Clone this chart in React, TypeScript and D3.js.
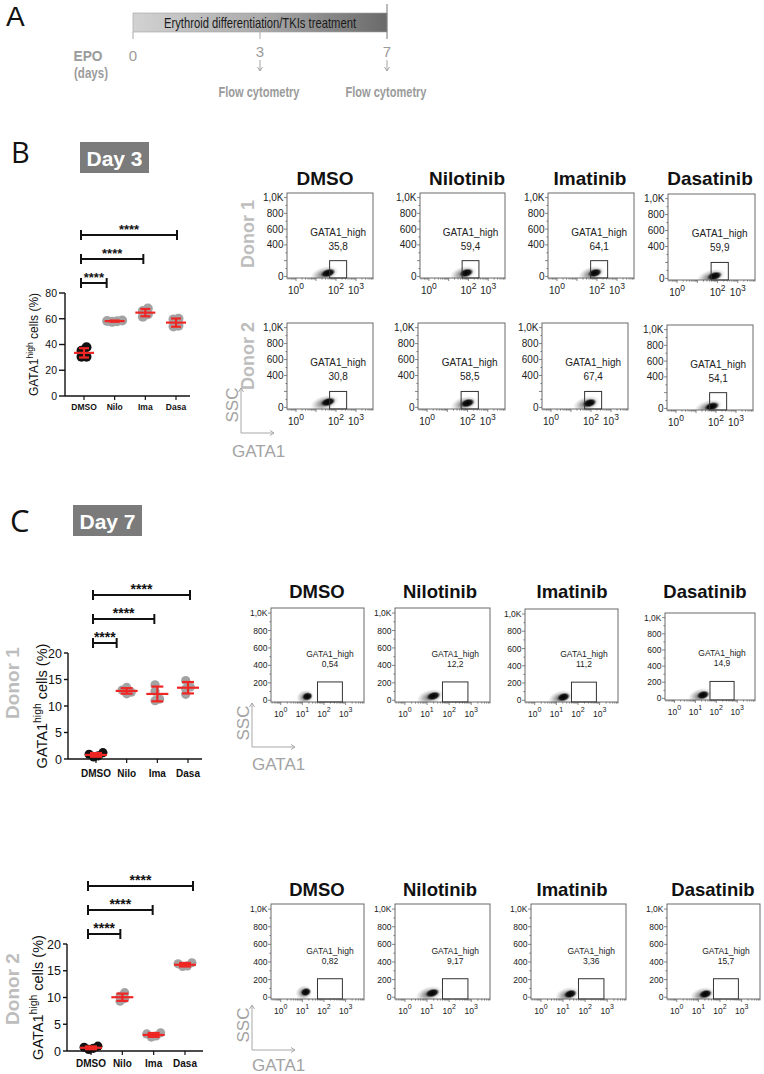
import React from "react";
import * as d3 from "d3";

const SANS = "'Liberation Sans', Arial, Helvetica, sans-serif";
const NARROW = "'Liberation Sans Narrow', 'Arial Narrow', 'Liberation Sans', Arial, sans-serif";
const LETTER = "'Open Sans', 'Liberation Sans', sans-serif";
const GRAY_TXT = "#9b9b9b";
const DONOR_GRAY = "#bdbdbd";
const RED = "#ee2624";
const PT_GRAY = "#a3a3a3";

// ================= Panel A data =================
const timelineDays = [0, 3, 7];
const readoutDays = [3, 7];
const timelineBarLabel = "Erythroid differentiation/TKIs treatment";
const readoutLabel = "Flow cytometry";

// ================= Dot-plot data =================
const categories = ["DMSO", "Nilo", "Ima", "Dasa"];
const comparisons = ["Nilo", "Ima", "Dasa"];
const sigStars = ["****", "****", "****"];

const day3Dmso = [30.5, 30.5, 35.2, 37.8];
const day3Nilo = [57.6, 58.0, 58.3, 58.7];
const day3Ima = [61.5, 63.5, 66.0, 68.0];
const day3Dasa = [54.0, 54.5, 59.5, 60.0];
const day3YTicks = [0, 20, 40, 60, 80];

const day7D1Dmso = [0.4, 0.6, 0.9, 1.2];
const day7D1Nilo = [12.3, 12.6, 13.0, 13.5];
const day7D1Ima = [11.0, 11.3, 12.8, 14.0];
const day7D1Dasa = [12.2, 13.2, 13.6, 14.8];

const day7D2Dmso = [0.3, 0.5, 0.7, 0.9];
const day7D2Nilo = [9.3, 9.8, 10.2, 10.9];
const day7D2Ima = [2.6, 2.8, 3.2, 3.4];
const day7D2Dasa = [15.8, 15.9, 16.3, 16.5];
const day7YTicks = [0, 5, 10, 15, 20];

// ================= Flow-cytometry data =================
const flowTitles = ["DMSO", "Nilotinib", "Imatinib", "Dasatinib"];
const gateName = "GATA1_high";
const day3D1Pct = ["35,8", "59,4", "64,1", "59,9"];
const day3D2Pct = ["30,8", "58,5", "67,4", "54,1"];
const day7D1Pct = ["0,54", "12,2", "11,2", "14,9"];
const day7D2Pct = ["0,82", "9,17", "3,36", "15,7"];

const sscTicksDay3 = [0, 400, 600, 800, 1000];
const sscTicksDay7 = [0, 200, 400, 600, 800, 1000];
const gataTicksDay3 = [1, 100, 1000];
const gataTicksDay7 = [1, 10, 100, 1000];

// gate: [GATA1 low, GATA1 high, SSC top]
const day3Gate = [48, 340, 200];
const day7Gate = [50, 710, 210];

// population centres (GATA1 intensity, SSC) and spread (decades)
const day3D1BlobGata = [40, 79, 79, 71];
const day3D1BlobSsc = [43, 45, 45, 30];
const day3D2BlobGata = [40, 100, 85, 62];
const day3D2BlobSsc = [68, 55, 55, 25];
const day3BlobSpread = [0.75, 0.7, 0.7, 0.75];
const day7D1BlobGata = [17, 19.5, 21.4, 23.4];
const day7D1BlobSsc = [44, 49, 37, 42];
const day7D1BlobSpread = [0.42, 0.64, 0.6, 0.6];
const day7D2BlobGata = [14.5, 17.4, 21.4, 21.4];
const day7D2BlobSsc = [59, 48, 37, 37];
const day7D2BlobSpread = [0.4, 0.64, 0.58, 0.6];

// ================= Layout (positions) =================
type Box = [number, number, number, number];
const day3Row1Boxes: Box[] = [[287, 193, 86, 85], [420, 193, 85, 85], [548, 193, 86, 85], [668, 194, 87, 86]];
const day3Row2Boxes: Box[] = [[287, 323, 86, 86], [418, 323, 87, 86], [542, 323, 86, 86], [667, 325, 86, 85]];
const day3TitleX = [325, 467, 590, 710];
const day7Row1Boxes: Box[] = [[271, 608, 93, 94], [395, 608, 95, 94], [525, 609, 93, 93], [665, 613, 90, 87]];
const day7Row2Boxes: Box[] = [[271, 904, 93, 95], [395, 904, 95, 95], [531, 904, 95, 95], [667, 904, 93, 95]];
const day7Row1TitleX = [317, 440, 572, 705];
const day7Row2TitleX = [317, 440, 572, 713];

// ---------------------------------------------------------------
function PanelA() {
  const tx = d3.scalePoint<number>().domain(timelineDays).range([133, 387]);
  const x0 = tx(0)!;
  const x7 = tx(7)!;
  return (
    <g>
      <text x={6} y={26} fontSize={28} fontFamily={SANS} fill="#111">A</text>
      <rect x={x0} y={13} width={x7 - x0} height={19} fill="url(#barGrad)" stroke="#a0a0a0" strokeWidth={0.6} />
      <text x={(x0 + x7) / 2} y={28} textAnchor="middle" fontFamily={NARROW} fontSize={15}
        textLength={192} lengthAdjust="spacingAndGlyphs" fill="#1b1b1b">{timelineBarLabel}</text>
      {timelineDays.map((d) => (
        <line key={"tl" + d} x1={tx(d)} x2={tx(d)} y1={d === 7 ? 4 : 32} y2={39}
          stroke={d === 7 ? "#777" : "#aaa"} strokeWidth={1} />
      ))}
      {timelineDays.map((d) => (
        <text key={"tn" + d} x={tx(d)} y={d === 0 ? 61 : 57} textAnchor="middle" fontFamily={NARROW}
          fontSize={15} fill={GRAY_TXT}>{d}</text>
      ))}
      {readoutDays.map((d) => (
        <g key={"ar" + d} stroke={GRAY_TXT} strokeWidth={0.9} fill="none">
          <line x1={tx(d)} x2={tx(d)} y1={60} y2={71} />
          <polyline points={`${tx(d)! - 2.5},${67} ${tx(d)},${71} ${tx(d)! + 2.5},${67}`} />
        </g>
      ))}
      {readoutDays.map((d) => (
        <text key={"fc" + d} x={tx(d)! - 1} y={97} textAnchor="middle" fontFamily={NARROW} fontWeight="bold"
          fontSize={15} textLength={81} lengthAdjust="spacingAndGlyphs" fill={GRAY_TXT}>{readoutLabel}</text>
      ))}
      <text x={88} y={61} textAnchor="middle" fontFamily={NARROW} fontWeight="bold" fontSize={15}
        textLength={29} lengthAdjust="spacingAndGlyphs" fill={GRAY_TXT}>EPO</text>
      <text x={91} y={78} textAnchor="middle" fontFamily={NARROW} fontWeight="bold" fontSize={15}
        textLength={34} lengthAdjust="spacingAndGlyphs" fill={GRAY_TXT}>(days)</text>
    </g>
  );
}

// ---------------------------------------------------------------
function beeswarm(vals: number[], ys: (v: number) => number, minD: number): number[] {
  const order = vals.map((_, i) => i).sort((a, b) => vals[a] - vals[b]);
  const placed: { i: number; dx: number; py: number }[] = [];
  const cands: number[] = [0];
  for (let k = 1; k < 12; k++) { cands.push(k * minD / 2, -k * minD / 2); }
  order.forEach((i) => {
    const py = ys(vals[i]);
    for (const c of cands) {
      if (placed.every((p) => Math.hypot(p.dx - c, p.py - py) >= minD)) {
        placed.push({ i, dx: c, py });
        break;
      }
    }
  });
  const mn = d3.min(placed, (p) => p.dx)!;
  const mx = d3.max(placed, (p) => p.dx)!;
  const shift = (mn + mx) / 2;
  const out = new Array(vals.length).fill(0);
  placed.forEach((p) => { out[p.i] = p.dx - shift; });
  return out;
}

type DotProps = {
  series: number[][]; yMax: number; yTicks: number[]; axisX: number; y0: number; yTop: number; xEnd: number;
  catL: number; catR: number; r: number; tickFs: number; tickLen: number; catFs: number; catY: number;
  labelX: number; labelFs: number; meanHW: number; capHW: number; starFs: number; bracketAdj: number[];
};

function DotPlot(p: DotProps) {
  const ys = d3.scaleLinear().domain([0, p.yMax]).range([p.y0, p.yTop]);
  const xs = d3.scalePoint<string>().domain(categories).range([p.catL, p.catR]);
  const bracketOff = [10, 34, 58];
  const xD = xs("DMSO")!;
  return (
    <g fontFamily={SANS}>
      <line x1={p.axisX} x2={p.axisX} y1={p.y0} y2={p.yTop} stroke="#111" strokeWidth={1.4} />
      {p.yTicks.map((t) => (
        <g key={"yt" + t}>
          <line x1={p.axisX - p.tickLen} x2={p.axisX} y1={ys(t)} y2={ys(t)} stroke="#111" strokeWidth={1.4} />
          <text x={p.axisX - p.tickLen - 2} y={ys(t) + p.tickFs * 0.36} textAnchor="end" fontSize={p.tickFs} fill="#111">{t}</text>
        </g>
      ))}
      <line x1={p.axisX} x2={p.xEnd} y1={p.y0} y2={p.y0} stroke="#111" strokeWidth={1.4} />
      {categories.map((c) => (
        <g key={"xc" + c}>
          <line x1={xs(c)} x2={xs(c)} y1={p.y0} y2={p.y0 + 4} stroke="#111" strokeWidth={1.2} />
          <text x={xs(c)} y={p.catY} textAnchor="middle" fontSize={p.catFs} fontWeight="bold" fill="#111">{c}</text>
        </g>
      ))}
      {p.series.map((vals, si) => {
        const offs = beeswarm(vals, ys, p.r);
        return vals.map((v, vi) => (
          <circle key={`pt${si}-${vi}`} cx={xs(categories[si])! + offs[vi]} cy={ys(v)} r={p.r}
            fill={si === 0 ? "#111" : PT_GRAY} />
        ));
      })}
      {p.series.map((vals, si) => {
        const m = d3.mean(vals)!;
        const sd = d3.deviation(vals)!;
        const cx = xs(categories[si])!;
        return (
          <g key={"ms" + si} stroke={RED} strokeWidth={2.2}>
            <line x1={cx - p.meanHW} x2={cx + p.meanHW} y1={ys(m)} y2={ys(m)} />
            <line x1={cx} x2={cx} y1={ys(m - sd)} y2={ys(m + sd)} />
            <line x1={cx - p.capHW} x2={cx + p.capHW} y1={ys(m + sd)} y2={ys(m + sd)} />
            <line x1={cx - p.capHW} x2={cx + p.capHW} y1={ys(m - sd)} y2={ys(m - sd)} />
          </g>
        );
      })}
      {comparisons.map((c, i) => {
        const by = p.yTop - bracketOff[i];
        const x1 = xD - 3;
        const x2 = xs(c)! + p.bracketAdj[i];
        return (
          <g key={"br" + c}>
            <g stroke="#111" strokeWidth={2}>
              <line x1={x1} x2={x2} y1={by} y2={by} />
              <line x1={x1} x2={x1} y1={by - 5} y2={by + 5} />
              <line x1={x2} x2={x2} y1={by - 5} y2={by + 5} />
            </g>
            <text x={(x1 + x2) / 2} y={by - 1.5} textAnchor="middle" fontSize={p.starFs} fontWeight="bold" fill="#111">{sigStars[i]}</text>
          </g>
        );
      })}
      <text transform={`translate(${p.labelX},${(p.y0 + p.yTop) / 2}) rotate(-90)`} textAnchor="middle"
        fontSize={p.labelFs} fill="#111">
        GATA1<tspan dy={-p.labelFs * 0.4} fontSize={p.labelFs * 0.72}>high</tspan>
        <tspan dy={p.labelFs * 0.4}> cells (%)</tspan>
      </text>
    </g>
  );
}

// ---------------------------------------------------------------
type FlowProps = {
  uid: string; box: Box; gate: number[]; pct: string; blobG: number; blobS: number; spread: number;
  yTicks: number[]; xTicks: number[]; tickFs: number; expFs: number; gateFs: number; gateDy: number[];
  xLabDy: number;
};

function FlowPlot(p: FlowProps) {
  const [x, y, w, h] = p.box;
  const lo = Math.pow(10, -0.45);
  const hi = Math.pow(10, 3.85);
  const xs = d3.scaleLog().domain([lo, hi]).range([x, x + w]);
  const ys = d3.scaleLinear().domain([-20, 1058]).range([y + h, y]);
  const pxDec = xs(10) - xs(1);
  const minorX: number[] = [];
  for (let d = -1; d <= 3; d++) {
    for (let k = 1; k <= 9; k++) {
      const v = k * Math.pow(10, d);
      if (v >= lo && v <= hi) minorX.push(v);
    }
  }
  const minorY = d3.range(0, 1001, 100);
  const gx0 = xs(p.gate[0]);
  const gx1 = xs(p.gate[1]);
  const gy = ys(p.gate[2]);
  const bx = xs(p.blobG);
  const by = ys(p.blobS);
  const rx = p.spread * pxDec;
  const yb = y + h;
  return (
    <g fontFamily={SANS}>
      <defs>
        <clipPath id={p.uid}><rect x={x} y={y} width={w} height={h} /></clipPath>
      </defs>
      <rect x={x} y={y} width={w} height={h} fill="#fff" />
      <g clipPath={`url(#${p.uid})`}>
        <g transform={`rotate(-16 ${bx} ${by})`}>
          <ellipse cx={bx - rx * 0.25} cy={by} rx={rx} ry={7.5} fill="url(#blobHalo)" />
          <ellipse cx={bx} cy={by} rx={Math.max(rx * 0.52, 5.5)} ry={4.2} fill="url(#blobCore)" />
        </g>
      </g>
      <rect x={x} y={y} width={w} height={h} fill="none" stroke="#6a6a6a" strokeWidth={1} />
      <rect x={gx0} y={gy} width={gx1 - gx0} height={yb - gy} fill="none" stroke="#333" strokeWidth={1} />
      <text x={(gx0 + gx1) / 2} y={gy - p.gateDy[0]} textAnchor="middle" fontSize={p.gateFs} fill="#222">{gateName}</text>
      <text x={(gx0 + gx1) / 2} y={gy - p.gateDy[1]} textAnchor="middle" fontSize={p.gateFs} fill="#222">{p.pct}</text>
      {minorX.map((v, i) => {
        const major = Math.abs(Math.log10(v) - Math.round(Math.log10(v))) < 1e-6;
        return <line key={"mx" + i} x1={xs(v)} x2={xs(v)} y1={yb} y2={yb + (major ? 3 : 1.6)} stroke="#555" strokeWidth={0.7} />;
      })}
      {p.xTicks.map((v) => (
        <text key={"xl" + v} x={xs(v)} y={yb + p.xLabDy} textAnchor="middle" fontSize={p.tickFs} fill="#222">
          10<tspan dy={-p.tickFs * 0.55} fontSize={p.expFs}>{Math.round(Math.log10(v))}</tspan>
        </text>
      ))}
      {minorY.map((v) => (
        <line key={"my" + v} x1={x - (v % 200 === 0 ? 3 : 1.6)} x2={x} y1={ys(v)} y2={ys(v)} stroke="#555" strokeWidth={0.7} />
      ))}
      {p.yTicks.map((v) => (
        <text key={"yl" + v} x={x - 3.5} y={ys(v) + p.tickFs * 0.36} textAnchor="end" fontSize={p.tickFs} fill="#222">
          {v === 1000 ? "1,0K" : String(v)}
        </text>
      ))}
    </g>
  );
}

function AxisHint({ x, yTop, yBot, xEnd, sscY, gataBase, gataX }: { x: number; yTop: number; yBot: number; xEnd: number; sscY: number; gataBase: number; gataX: number }) {
  return (
    <g fontFamily={SANS}>
      <g stroke="#a8a8a8" strokeWidth={1} fill="none">
        <line x1={x} x2={x} y1={yTop} y2={yBot} />
        <line x1={x} x2={xEnd} y1={yBot} y2={yBot} />
        <polyline points={`${x - 2.5},${yTop + 4} ${x},${yTop} ${x + 2.5},${yTop + 4}`} />
        <polyline points={`${xEnd - 4},${yBot - 2.5} ${xEnd},${yBot} ${xEnd - 4},${yBot + 2.5}`} />
      </g>
      <text transform={`translate(${x - 3},${sscY}) rotate(-90)`} textAnchor="middle" fontSize={17} fill="#a3a3a3">SSC</text>
      <text x={gataX} y={gataBase} fontSize={17} fill="#a3a3a3">GATA1</text>
    </g>
  );
}

function DayBox({ x, y, label }: { x: number; y: number; label: string }) {
  return (
    <g>
      <rect x={x} y={y} width={69} height={31} fill="#7b7b7b" />
      <text x={x + 34.5} y={y + 24} textAnchor="middle" fontFamily={SANS} fontWeight="bold" fontSize={21} fill="#fff">{label}</text>
    </g>
  );
}

function DonorLabel({ x, y, label, fs }: { x: number; y: number; label: string; fs: number }) {
  return (
    <text transform={`translate(${x + fs * 0.36},${y}) rotate(-90)`} textAnchor="middle" fontFamily={SANS}
      fontWeight="bold" fontSize={fs} fill={DONOR_GRAY}>{label}</text>
  );
}

function FlowRow(props: {
  id: string; boxes: Box[]; pcts: string[]; blobG: number[]; blobS: number[]; spread: number[];
  gate: number[]; yTicks: number[]; xTicks: number[]; small: boolean;
}) {
  return (
    <g>
      {props.boxes.map((b, i) => (
        <FlowPlot key={props.id + i} uid={`${props.id}-${i}`} box={b} gate={props.gate} pct={props.pcts[i]}
          blobG={props.blobG[i]} blobS={props.blobS[i]} spread={props.spread[i]}
          yTicks={props.yTicks} xTicks={props.xTicks}
          tickFs={props.small ? 8.5 : 10} expFs={props.small ? 7 : 8.5} gateFs={props.small ? 8.5 : 10}
          gateDy={props.small ? [25, 15] : [25, 11]} xLabDy={props.small ? 15 : 16} />
      ))}
    </g>
  );
}

function Titles({ xs, y, fs }: { xs: number[]; y: number; fs: number }) {
  return (
    <g>
      {flowTitles.map((t, i) => (
        <text key={t} x={xs[i]} y={y} textAnchor="middle" fontFamily={SANS} fontWeight="bold" fontSize={fs} fill="#111">{t}</text>
      ))}
    </g>
  );
}

export default function App() {
  return (
    <svg width={764} height={1074} viewBox="0 0 764 1074"
      style={{ position: "absolute", left: 0, top: 0, background: "#fff" }}>
      <defs>
        <linearGradient id="barGrad" x1="0" x2="1" y1="0" y2="0">
          <stop offset="0" stopColor="#d2d2d2" />
          <stop offset="0.5" stopColor="#ababab" />
          <stop offset="1" stopColor="#6a6a6a" />
        </linearGradient>
        <radialGradient id="blobHalo">
          <stop offset="0" stopColor="#444" stopOpacity={0.9} />
          <stop offset="0.5" stopColor="#8a8a8a" stopOpacity={0.6} />
          <stop offset="0.8" stopColor="#c4c4c4" stopOpacity={0.35} />
          <stop offset="1" stopColor="#e0e0e0" stopOpacity={0} />
        </radialGradient>
        <radialGradient id="blobCore">
          <stop offset="0" stopColor="#000" stopOpacity={1} />
          <stop offset="0.6" stopColor="#0a0a0a" stopOpacity={0.92} />
          <stop offset="1" stopColor="#333" stopOpacity={0} />
        </radialGradient>
      </defs>
      <rect width={764} height={1074} fill="#fff" />

      <PanelA />

      {/* ---------- Panel B ---------- */}
      <text x={11} y={163} fontSize={29} fontFamily={LETTER} fill="#111">B</text>
      <DayBox x={80} y={142} label="Day 3" />
      <DotPlot series={[day3Dmso, day3Nilo, day3Ima, day3Dasa]} yMax={80} yTicks={day3YTicks}
        axisX={65} y0={396} yTop={293} xEnd={190} catL={84} catR={176} r={5} tickFs={10.5} tickLen={6}
        catFs={8.5} catY={410} labelX={38} labelFs={12} meanHW={10} capHW={5} starFs={13} bracketAdj={[-8, -2, 1]} />
      <Titles xs={day3TitleX} y={185} fs={19} />
      <FlowRow id="d3r1" boxes={day3Row1Boxes} pcts={day3D1Pct} blobG={day3D1BlobGata} blobS={day3D1BlobSsc}
        spread={day3BlobSpread} gate={day3Gate} yTicks={sscTicksDay3} xTicks={gataTicksDay3} small={false} />
      <FlowRow id="d3r2" boxes={day3Row2Boxes} pcts={day3D2Pct} blobG={day3D2BlobGata} blobS={day3D2BlobSsc}
        spread={day3BlobSpread} gate={day3Gate} yTicks={sscTicksDay3} xTicks={gataTicksDay3} small={false} />
      <DonorLabel x={248} y={234} label="Donor 1" fs={18} />
      <DonorLabel x={248} y={356} label="Donor 2" fs={18} />
      <AxisHint x={241} yTop={388} yBot={433} xEnd={274} sscY={405} gataBase={457} gataX={232} />

      {/* ---------- Panel C ---------- */}
      <text x={10} y={532} fontSize={31} fontFamily={LETTER} fill="#111">C</text>
      <DayBox x={73} y={505} label="Day 7" />
      <DonorLabel x={12} y={683} label="Donor 1" fs={19} />
      <DotPlot series={[day7D1Dmso, day7D1Nilo, day7D1Ima, day7D1Dasa]} yMax={20} yTicks={day7YTicks}
        axisX={68} y0={759} yTop={653} xEnd={202} catL={96} catR={188} r={4.6} tickFs={12.5} tickLen={4}
        catFs={10} catY={777} labelX={47} labelFs={14.5} meanHW={11} capHW={6} starFs={14} bracketAdj={[-10, -3, 2]} />
      <Titles xs={day7Row1TitleX} y={598} fs={18.5} />
      <FlowRow id="d7r1" boxes={day7Row1Boxes} pcts={day7D1Pct} blobG={day7D1BlobGata} blobS={day7D1BlobSsc}
        spread={day7D1BlobSpread} gate={day7Gate} yTicks={sscTicksDay7} xTicks={gataTicksDay7} small={true} />
      <AxisHint x={252} yTop={703} yBot={747} xEnd={295} sscY={723} gataBase={770} gataX={252} />

      <DonorLabel x={12} y={989} label="Donor 2" fs={19} />
      <DotPlot series={[day7D2Dmso, day7D2Nilo, day7D2Ima, day7D2Dasa]} yMax={20} yTicks={day7YTicks}
        axisX={67} y0={1051} yTop={944} xEnd={203} catL={91} catR={185} r={4.6} tickFs={12.5} tickLen={4}
        catFs={10} catY={1067} labelX={43} labelFs={14.5} meanHW={11} capHW={6} starFs={14} bracketAdj={[-2, -1, 8]} />
      <Titles xs={day7Row2TitleX} y={896} fs={18.5} />
      <FlowRow id="d7r2" boxes={day7Row2Boxes} pcts={day7D2Pct} blobG={day7D2BlobGata} blobS={day7D2BlobSsc}
        spread={day7D2BlobSpread} gate={day7Gate} yTicks={sscTicksDay7} xTicks={gataTicksDay7} small={true} />
      <AxisHint x={252} yTop={1005} yBot={1050} xEnd={295} sscY={1025} gataBase={1071} gataX={252} />
    </svg>
  );
}
